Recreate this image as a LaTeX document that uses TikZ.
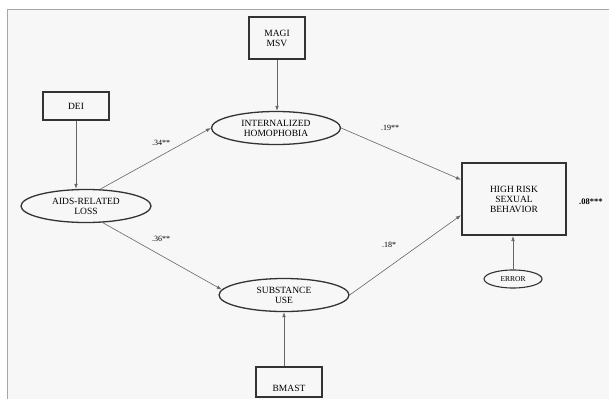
\documentclass[tikz,border=0pt]{standalone}
\usepackage{fontspec}
\setmainfont{Liberation Serif}
\usepackage{tikz}
\usetikzlibrary{arrows.meta}
\usetikzlibrary{calc, shapes.geometric}

\tikzset{
	latent/.style={ellipse, draw=black!80, line width=1.3pt, inner sep=0pt, align=center, font=\fontsize{9.5}{10}\selectfont},
	measure/.style={rectangle, draw=black!80, line width=1.2pt, inner sep=0pt, align=center, font=\fontsize{9.5}{10}\selectfont},
	path/.style={-{Latex[length=5pt,width=3.6pt]}, line width=0.6pt, draw=black!60},
	coef/.style={inner sep=0pt, font=\fontsize{8}{8}\selectfont}
}

\begin{document}
\begin{tikzpicture}[x=1pt,y=-1pt]
			
			\useasboundingbox (0,0) rectangle (609,399);
			\fill[black!3] (7,9) rectangle (609,399);
			\draw[black!35, line width=0.8pt] (7,399) -- (7,9) -- (609,9);
			
			\node[measure, minimum width=56pt, minimum height=42pt] (magi) at (277,38) {MAGI\\MSV};
			\node[measure, minimum width=66pt, minimum height=28pt] (dei) at (76,106) {DEI};
			\node[measure, minimum width=66pt, text height=24pt, text depth=6pt] (bmast) at (289,382) {BMAST};
			\node[measure, line width=2pt, minimum width=104pt, minimum height=72pt] (hrsb) at (514,199) {HIGH RISK\\SEXUAL\\BEHAVIOR};
			
			\node[latent, minimum width=130pt, minimum height=33pt] (aids) at (86,206) {AIDS-RELATED\\LOSS};
			\node[latent, minimum width=129pt, minimum height=33pt] (homo) at (276,128) {INTERNALIZED\\HOMOPHOBIA};
			\node[latent, minimum width=130pt, minimum height=33pt] (subst) at (284,295) {SUBSTANCE\\USE};
			\node[latent, line width=1.1pt, minimum width=58pt, minimum height=18pt, font=\fontsize{7.5}{8}\selectfont] (error) at (513,279) {ERROR};
			
			\draw[path] (dei.south) -- (dei.south |- aids.north);
			\draw[path] (magi.south) -- (magi.south |- homo.north);
			\draw[path] (subst.south |- bmast.north) -- (subst.south);
			\draw[path] (error.north) -- (error.north |- hrsb.south);
			
			\draw[path] (aids.50) -- (homo.west);
			\draw[path] (aids.-45) -- (subst.175);
			\draw[path] (homo.east) -- (hrsb.160);
			\draw[path] (subst.east) -- (hrsb.197);
			
			\node[coef] (c34) at (161,143) {.34**};
			\node[coef] (c19) at (390,128) {.19**};
			\node[coef] (c36) at (161,239) {.36**};
			\node[coef] (c18) at (389,245) {.18*};
			\node[coef, anchor=west, font=\fontsize{8.5}{9}\selectfont\bfseries] (r2) at (579,202) {.08***};
			
		\end{tikzpicture}
\end{document}
